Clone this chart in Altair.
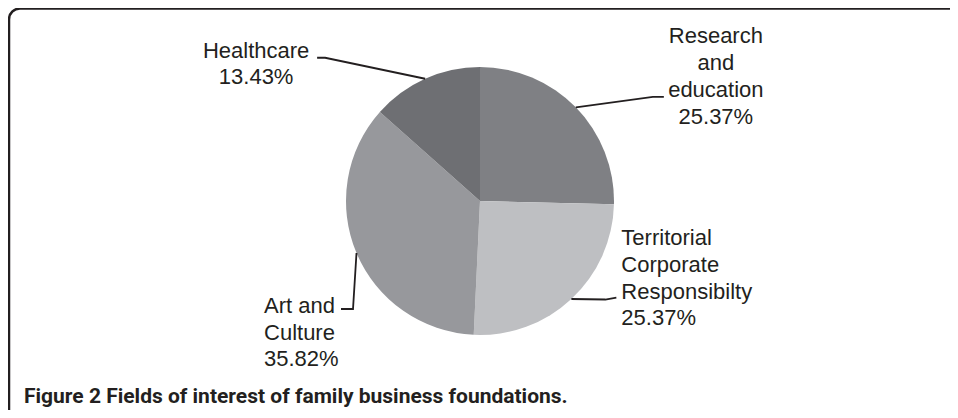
import altair as alt
import numpy as np
import pandas as pd

# ---------------- data ----------------
categories = ["Research and education", "Territorial Corporate Responsibilty",
              "Art and Culture", "Healthcare"]
values = [25.37, 25.37, 35.82, 13.43]
label_lines = [["Research", "and", "education"],
               ["Territorial", "Corporate", "Responsibilty"],
               ["Art and", "Culture"],
               ["Healthcare"]]
caption = "Figure 2 Fields of interest of family business foundations."

# ---------------- style / layout ----------------
colors = ["#7f8084", "#bebfc2", "#97989c", "#6e6f73"]
INK = "#231f20"
W, H = 942, 402
CX, CY, R = 472, 193, 134
LH = 26.7
FONT = "Liberation Sans"
# leader: elbow offset from slice edge, horizontal run, end rise,
# text offset from line end, index of text line the leader points to, align
leader_layout = [
    dict(ex=77, ey=-10.5, hx=11, hy=0, tx=52, line=2, align="center"),
    dict(ex=34, ey=0.5, hx=11, hy=-2, tx=5, line=2, align="left"),
    dict(ex=-3.5, ey=56, hx=-12, hy=0, tx=-77, line=0, align="left"),
    dict(ex=-100, ey=-21, hx=-8, hy=0, tx=-61, line=0, align="center"),
]
text_shift = [0, 1, 4, 0]  # baseline fine-tuning relative to leader end

total = sum(values)
cum = np.cumsum([0] + values)
mid = [(cum[i] + values[i] / 2) / total * 2 * np.pi for i in range(len(values))]

pie_df = pd.DataFrame({"category": categories, "value": values,
                       "idx": list(range(len(categories)))})

line_rows, text_rows = [], []
for i, cat in enumerate(categories):
    lay = leader_layout[i]
    sx = CX + R * np.sin(mid[i])
    sy = CY - R * np.cos(mid[i])
    bx, by = sx + lay["ex"], sy + lay["ey"]
    qx, qy = bx + lay["hx"], by + lay["hy"]
    for k, (px, py) in enumerate([(sx, sy), (bx, by), (qx, qy)]):
        line_rows.append({"category": cat, "pt": k, "px": px, "py": py})
    lines = label_lines[i] + [f"{values[i]:.2f}%"]
    text_rows.append({
        "category": cat,
        "tx": qx + lay["tx"],
        "ty": qy - lay["line"] * LH + text_shift[i],
        "label": "\n".join(lines),
        "align": lay["align"],
    })
line_df = pd.DataFrame(line_rows)
text_df = pd.DataFrame(text_rows)

pie = alt.Chart(pie_df).mark_arc(radius=R).encode(
    theta=alt.Theta("value:Q", stack=True),
    order=alt.Order("idx:Q"),
    color=alt.Color("category:N", scale=alt.Scale(domain=categories, range=colors),
                    legend=None),
    x=alt.value(CX),
    y=alt.value(CY),
)

leaders = alt.Chart(line_df).mark_line(color=INK, strokeWidth=1.8).encode(
    x=alt.X("px:Q", scale=None, axis=None),
    y=alt.Y("py:Q", scale=None, axis=None),
    detail="category:N",
    order="pt:Q",
)


def label_layer(align):
    return alt.Chart(text_df).transform_filter(
        alt.datum.align == align
    ).mark_text(
        align=align, baseline="alphabetic", lineBreak="\n", lineHeight=LH,
        font=FONT, fontSize=22, color=INK,
    ).encode(
        x=alt.X("tx:Q", scale=None, axis=None),
        y=alt.Y("ty:Q", scale=None, axis=None),
        text="label:N",
    )


frame = alt.Chart(pd.DataFrame({"k": [0]})).mark_rect(
    fillOpacity=0, stroke=INK, strokeWidth=2.5, cornerRadius=11
).encode(x=alt.value(1), x2=alt.value(1400), y=alt.value(0.5), y2=alt.value(900))

cap = alt.Chart(pd.DataFrame({"t": [caption]})).mark_text(
    align="left", baseline="alphabetic",
    font="Roboto",
    fontSize=21, fontWeight="bold", color=INK,
).encode(x=alt.value(16), y=alt.value(395), text="t:N")

chart = alt.layer(frame, pie, leaders, label_layer("center"), label_layer("left"), cap).properties(
    width=W, height=H,
    autosize=alt.AutoSizeParams(type="none"),
    padding=0,
).configure_view(stroke=None)

chart.save("out.html", embed_options={"renderer": "svg", "actions": False})
